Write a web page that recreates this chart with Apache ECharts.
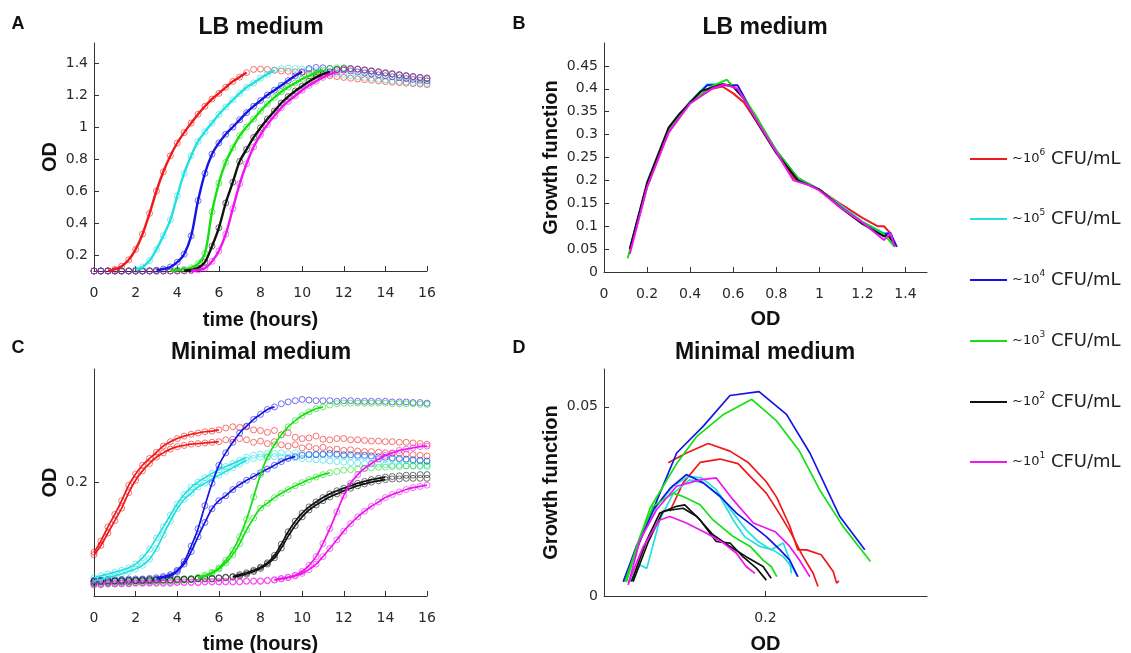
<!DOCTYPE html>
<html><head><meta charset="utf-8">
<script src="https://cdn.jsdelivr.net/npm/echarts@6/dist/echarts.min.js"></script>
<style>html,body{margin:0;padding:0;background:#fff}#c{width:1131px;height:653px}</style>
</head><body><div id="c"></div><script>
// ---------- labels & colours ----------
const legendNames = ['e6','e5','e4','e3','e2','e1'];
const legendExps = ['6','5','4','3','2','1'];
const colors = ['#f01818','#22e0e0','#1414e6','#14e014','#111111','#f014f0'];
const legendY = [159,219,280,341,402,462];

// ---------- time grid (hours) ----------
const timeH = [0,0.33,0.67,1,1.33,1.67,2,2.33,2.67,3,3.33,3.67,4,4.33,4.67,5,5.33,5.67,6,6.33,6.67,7,7.33,7.67,8,8.33,8.67,9,9.33,9.67,10,10.33,10.67,11,11.33,11.67,12,12.33,12.67,13,13.33,13.67,14,14.33,14.67,15,15.33,15.67,16];

// ---------- Panel A: LB medium, OD vs time ----------
const odA_e6 = [0.100,0.100,0.102,0.110,0.130,0.170,0.235,0.330,0.460,0.600,0.720,0.820,0.900,0.965,1.025,1.080,1.130,1.175,1.210,1.248,1.285,1.312,1.340,1.360,1.362,1.360,1.355,1.350,1.348,1.345,1.340,1.335,1.330,1.325,1.320,1.315,1.310,1.305,1.300,1.296,1.292,1.288,1.284,1.280,1.277,1.274,1.271,1.268,1.265];
const odA_e5 = [0.100,0.100,0.100,0.100,0.100,0.102,0.108,0.125,0.165,0.235,0.320,0.420,0.570,0.710,0.820,0.910,0.970,1.025,1.078,1.125,1.170,1.210,1.248,1.275,1.305,1.330,1.355,1.365,1.368,1.366,1.362,1.358,1.352,1.346,1.340,1.334,1.328,1.322,1.316,1.310,1.305,1.300,1.295,1.290,1.286,1.282,1.278,1.275,1.272];
const odA_e4 = [0.100,0.100,0.100,0.100,0.100,0.100,0.100,0.100,0.102,0.105,0.112,0.125,0.155,0.205,0.320,0.540,0.710,0.830,0.900,0.955,1.000,1.045,1.090,1.130,1.165,1.200,1.230,1.260,1.290,1.320,1.345,1.365,1.372,1.370,1.366,1.360,1.355,1.350,1.344,1.338,1.332,1.326,1.320,1.314,1.308,1.302,1.297,1.292,1.288];
const odA_e3 = [0.100,0.100,0.100,0.100,0.100,0.100,0.100,0.100,0.100,0.100,0.100,0.102,0.105,0.110,0.120,0.145,0.210,0.470,0.650,0.780,0.870,0.945,1.000,1.050,1.100,1.145,1.185,1.220,1.250,1.275,1.300,1.320,1.340,1.355,1.365,1.370,1.370,1.366,1.360,1.354,1.348,1.342,1.336,1.330,1.324,1.318,1.312,1.306,1.300];
const odA_e2 = [0.100,0.100,0.100,0.100,0.100,0.100,0.100,0.100,0.100,0.100,0.100,0.100,0.100,0.102,0.106,0.118,0.155,0.255,0.370,0.525,0.655,0.785,0.860,0.935,0.995,1.050,1.100,1.150,1.190,1.225,1.255,1.285,1.310,1.330,1.345,1.358,1.365,1.365,1.362,1.356,1.350,1.344,1.338,1.332,1.326,1.320,1.315,1.310,1.305];
const odA_e1 = [0.100,0.100,0.100,0.100,0.100,0.100,0.100,0.100,0.100,0.100,0.100,0.100,0.100,0.100,0.102,0.106,0.118,0.160,0.225,0.330,0.490,0.645,0.770,0.875,0.950,1.015,1.070,1.120,1.160,1.195,1.230,1.260,1.285,1.310,1.330,1.345,1.358,1.362,1.362,1.358,1.352,1.346,1.340,1.334,1.328,1.322,1.316,1.310,1.306];
const fitStartA = [2,6,9,11,13,14];
const fitEndA = [22,26,30,33,34,35];

// ---------- Panel B: LB medium, growth function vs OD ----------
const odB_e6 = [0.12,0.2,0.3,0.4,0.5,0.55,0.6,0.65,0.7,0.8,0.88,0.95,1.0,1.1,1.2,1.27,1.3,1.33,1.35];
const gfB_e6 = [0.045,0.19,0.305,0.37,0.4,0.405,0.39,0.37,0.335,0.26,0.205,0.192,0.18,0.148,0.118,0.1,0.1,0.085,0.06];
const odB_e5 = [0.12,0.2,0.3,0.4,0.48,0.55,0.6,0.65,0.7,0.8,0.9,1.0,1.1,1.2,1.3,1.33,1.35];
const gfB_e5 = [0.05,0.19,0.31,0.372,0.41,0.41,0.405,0.378,0.338,0.26,0.205,0.18,0.145,0.11,0.085,0.085,0.06];
const odB_e4 = [0.12,0.2,0.3,0.4,0.48,0.62,0.7,0.8,0.9,1.0,1.1,1.2,1.3,1.33,1.36];
const gfB_e4 = [0.05,0.19,0.31,0.37,0.408,0.408,0.34,0.265,0.205,0.18,0.142,0.108,0.082,0.085,0.055];
const odB_e3 = [0.11,0.2,0.3,0.4,0.5,0.57,0.65,0.7,0.8,0.9,1.0,1.1,1.2,1.3,1.35];
const gfB_e3 = [0.03,0.185,0.31,0.372,0.405,0.42,0.38,0.345,0.265,0.205,0.18,0.142,0.108,0.082,0.055];
const odB_e2 = [0.12,0.2,0.3,0.35,0.45,0.55,0.6,0.65,0.7,0.8,0.9,1.0,1.1,1.2,1.3,1.32,1.35];
const gfB_e2 = [0.05,0.195,0.315,0.345,0.395,0.41,0.405,0.378,0.335,0.26,0.2,0.18,0.14,0.105,0.078,0.08,0.06];
const odB_e1 = [0.12,0.2,0.3,0.4,0.5,0.56,0.62,0.7,0.8,0.88,0.95,1.0,1.1,1.2,1.3,1.33,1.35];
const gfB_e1 = [0.04,0.185,0.305,0.368,0.4,0.41,0.4,0.338,0.262,0.2,0.19,0.178,0.14,0.108,0.07,0.085,0.055];

// ---------- Panel C: minimal medium, OD vs time (two replicates) ----------
const odC_e6_r1 = [0.087,0.105,0.128,0.148,0.170,0.195,0.213,0.227,0.238,0.248,0.258,0.265,0.270,0.274,0.277,0.279,0.281,0.282,0.284,0.287,0.289,0.288,0.289,0.284,0.283,0.280,0.283,0.276,0.279,0.272,0.270,0.271,0.274,0.269,0.268,0.270,0.270,0.268,0.268,0.267,0.266,0.266,0.265,0.265,0.264,0.264,0.263,0.262,0.261];
const odC_e6_r2 = [0.083,0.098,0.118,0.138,0.158,0.183,0.203,0.218,0.230,0.240,0.247,0.253,0.257,0.259,0.261,0.262,0.263,0.264,0.265,0.268,0.269,0.270,0.268,0.264,0.266,0.262,0.265,0.260,0.258,0.260,0.255,0.257,0.254,0.256,0.252,0.253,0.251,0.252,0.250,0.249,0.249,0.248,0.247,0.246,0.246,0.245,0.244,0.243,0.242];
const odC_e5_r1 = [0.046,0.049,0.052,0.055,0.058,0.062,0.068,0.078,0.092,0.110,0.128,0.147,0.165,0.180,0.192,0.200,0.207,0.214,0.220,0.225,0.230,0.235,0.240,0.243,0.245,0.246,0.246,0.247,0.246,0.247,0.246,0.245,0.245,0.244,0.243,0.243,0.242,0.241,0.240,0.240,0.239,0.238,0.237,0.237,0.236,0.235,0.234,0.234,0.233];
const odC_e5_r2 = [0.041,0.043,0.046,0.049,0.052,0.056,0.060,0.066,0.076,0.093,0.115,0.137,0.157,0.172,0.182,0.192,0.198,0.205,0.211,0.217,0.223,0.229,0.235,0.238,0.240,0.241,0.241,0.240,0.240,0.239,0.238,0.237,0.236,0.235,0.234,0.233,0.232,0.231,0.231,0.230,0.229,0.229,0.228,0.227,0.227,0.226,0.226,0.225,0.225];
const odC_e4_r1 = [0.042,0.042,0.043,0.043,0.043,0.044,0.044,0.044,0.045,0.046,0.048,0.051,0.058,0.072,0.097,0.125,0.162,0.198,0.227,0.247,0.264,0.279,0.290,0.301,0.309,0.317,0.321,0.326,0.329,0.331,0.333,0.332,0.331,0.331,0.331,0.330,0.331,0.331,0.330,0.330,0.330,0.330,0.330,0.329,0.329,0.329,0.328,0.328,0.327];
const odC_e4_r2 = [0.040,0.040,0.041,0.041,0.041,0.042,0.042,0.043,0.043,0.044,0.046,0.049,0.056,0.068,0.088,0.112,0.135,0.157,0.170,0.178,0.188,0.196,0.203,0.209,0.215,0.221,0.227,0.233,0.238,0.241,0.243,0.244,0.244,0.245,0.246,0.245,0.244,0.244,0.243,0.243,0.242,0.241,0.240,0.239,0.238,0.237,0.236,0.235,0.234];
const odC_e3_r1 = [0.036,0.037,0.038,0.038,0.039,0.039,0.040,0.040,0.041,0.041,0.042,0.042,0.043,0.044,0.045,0.047,0.050,0.055,0.062,0.074,0.090,0.112,0.140,0.176,0.212,0.240,0.260,0.276,0.289,0.299,0.307,0.313,0.318,0.321,0.324,0.326,0.327,0.327,0.327,0.327,0.327,0.327,0.327,0.326,0.326,0.326,0.326,0.325,0.325];
const odC_e3_r2 = [0.034,0.035,0.036,0.036,0.037,0.037,0.038,0.038,0.039,0.039,0.040,0.040,0.041,0.042,0.043,0.045,0.048,0.053,0.060,0.070,0.083,0.101,0.123,0.142,0.158,0.166,0.175,0.182,0.188,0.194,0.199,0.204,0.208,0.212,0.215,0.217,0.219,0.220,0.221,0.222,0.223,0.224,0.224,0.225,0.225,0.226,0.226,0.227,0.227];
const odC_e2_r1 = [0.040,0.041,0.041,0.041,0.042,0.042,0.042,0.042,0.043,0.043,0.043,0.043,0.044,0.044,0.044,0.045,0.045,0.045,0.046,0.047,0.048,0.051,0.054,0.058,0.063,0.070,0.082,0.100,0.120,0.137,0.150,0.160,0.168,0.175,0.181,0.186,0.190,0.194,0.198,0.201,0.204,0.206,0.208,0.209,0.210,0.211,0.211,0.212,0.212];
const odC_e2_r2 = [0.038,0.039,0.039,0.040,0.040,0.040,0.041,0.041,0.041,0.042,0.042,0.042,0.043,0.043,0.043,0.044,0.044,0.044,0.045,0.046,0.047,0.049,0.052,0.056,0.061,0.068,0.078,0.094,0.113,0.130,0.144,0.155,0.163,0.170,0.176,0.181,0.186,0.190,0.194,0.197,0.200,0.202,0.204,0.205,0.205,0.206,0.206,0.206,0.206];
const odC_e1_r1 = [0.036,0.036,0.037,0.037,0.037,0.037,0.038,0.038,0.038,0.038,0.038,0.038,0.039,0.039,0.039,0.039,0.040,0.040,0.040,0.040,0.040,0.040,0.041,0.041,0.041,0.042,0.043,0.045,0.047,0.050,0.056,0.066,0.080,0.101,0.125,0.152,0.178,0.198,0.212,0.222,0.230,0.237,0.243,0.247,0.251,0.253,0.255,0.257,0.258];
const odC_e1_r2 = [0.035,0.035,0.036,0.036,0.036,0.036,0.037,0.037,0.037,0.037,0.037,0.037,0.038,0.038,0.038,0.038,0.039,0.039,0.039,0.039,0.039,0.039,0.040,0.040,0.040,0.041,0.042,0.044,0.046,0.049,0.053,0.059,0.068,0.080,0.093,0.107,0.121,0.133,0.144,0.153,0.161,0.168,0.175,0.180,0.184,0.188,0.191,0.193,0.195];
const fitStartC = [[0,0],[0,0],[9,9],[15,15],[20,20],[26,26]];
const fitEndC = [[18,18],[22,22],[26,29],[33,34],[42,42],[48,48]];

// ---------- Panel D: minimal medium, growth function vs OD ----------
const odD_e6_r1 = [0.0796,0.102,0.129,0.156,0.179,0.201,0.214,0.23,0.24,0.251,0.269,0.284,0.288,0.291];
const gfD_e6_r1 = [0.0352,0.0378,0.0403,0.0383,0.0352,0.0302,0.026,0.0185,0.0122,0.0122,0.0109,0.0064,0.0034,0.004];
const odD_e6_r2 = [0.0816,0.098,0.119,0.1435,0.166,0.181,0.201,0.218,0.232,0.245,0.259,0.265];
const gfD_e6_r2 = [0.0224,0.0299,0.0353,0.0362,0.035,0.0316,0.0272,0.0215,0.0165,0.011,0.006,0.0025];
const odD_e5_r1 = [0.027,0.0445,0.065,0.0858,0.104,0.121,0.139,0.16,0.176,0.191,0.207,0.222,0.23,0.232];
const gfD_e5_r1 = [0.0038,0.0148,0.0237,0.029,0.0316,0.0312,0.0281,0.0219,0.0175,0.0144,0.0122,0.014,0.0095,0.006];
const odD_e5_r2 = [0.032,0.0445,0.053,0.069,0.0858,0.106,0.123,0.1435,0.16,0.174,0.193,0.209,0.222,0.234,0.24];
const gfD_e5_r2 = [0.0038,0.0082,0.0073,0.0201,0.0272,0.0307,0.0299,0.0263,0.0201,0.0157,0.0131,0.0122,0.0104,0.0073,0.0051];
const odD_e4_r1 = [0.024,0.059,0.09,0.123,0.156,0.192,0.226,0.255,0.292,0.323];
const gfD_e4_r1 = [0.0038,0.0219,0.0378,0.0449,0.053,0.054,0.048,0.0378,0.021,0.0122];
const odD_e4_r2 = [0.024,0.04,0.061,0.082,0.102,0.123,0.144,0.164,0.185,0.201,0.218,0.23,0.24];
const gfD_e4_r2 = [0.0038,0.0131,0.0228,0.0285,0.0321,0.0299,0.0263,0.0219,0.0184,0.0157,0.0122,0.0095,0.0051];
const odD_e3_r1 = [0.026,0.057,0.09,0.115,0.148,0.183,0.214,0.242,0.267,0.296,0.33];
const gfD_e3_r1 = [0.0038,0.0232,0.035,0.0422,0.048,0.052,0.0462,0.0383,0.0281,0.0184,0.0091];
const odD_e3_r2 = [0.028,0.0445,0.061,0.086,0.098,0.119,0.135,0.16,0.181,0.197,0.207,0.214];
const gfD_e3_r2 = [0.0038,0.0157,0.0237,0.0272,0.0263,0.0241,0.0201,0.0157,0.0131,0.0095,0.0078,0.0051];
const odD_e2_r1 = [0.034,0.053,0.069,0.09,0.1,0.119,0.139,0.156,0.172,0.189,0.201];
const gfD_e2_r1 = [0.0038,0.0148,0.0219,0.0237,0.0241,0.0201,0.0144,0.014,0.0104,0.0073,0.0042];
const odD_e2_r2 = [0.036,0.055,0.073,0.098,0.115,0.135,0.156,0.176,0.197,0.207];
const gfD_e2_r2 = [0.0038,0.0144,0.0224,0.0232,0.021,0.0162,0.0131,0.0104,0.0078,0.0047];
const odD_e1_r1 = [0.03,0.0445,0.065,0.09,0.119,0.139,0.16,0.185,0.212,0.23,0.242,0.255];
const gfD_e1_r1 = [0.0029,0.0148,0.0228,0.029,0.0307,0.0312,0.0254,0.0193,0.017,0.0131,0.0095,0.0051];
const odD_e1_r2 = [0.03,0.0487,0.069,0.0816,0.102,0.127,0.148,0.164,0.176,0.187];
const gfD_e1_r2 = [0.0034,0.0131,0.0201,0.021,0.0193,0.0166,0.014,0.0113,0.0078,0.006];

// ---------- tick labels ----------
const ticksA_y = [0.2,0.4,0.6,0.8,1,1.2,1.4];
const ticksB_x = [0,0.2,0.4,0.6,0.8,1,1.2,1.4];
const ticksB_y = [0,0.05,0.1,0.15,0.2,0.25,0.3,0.35,0.4,0.45];
const ticksC_y = [0.2];
const ticksD_x = [0.2];
const ticksD_y = [0,0.05];

// ---------- build ----------
const odA = [odA_e6,odA_e5,odA_e4,odA_e3,odA_e2,odA_e1];
const odB = [odB_e6,odB_e5,odB_e4,odB_e3,odB_e2,odB_e1];
const gfB = [gfB_e6,gfB_e5,gfB_e4,gfB_e3,gfB_e2,gfB_e1];
const odC = [[odC_e6_r1,odC_e6_r2],[odC_e5_r1,odC_e5_r2],[odC_e4_r1,odC_e4_r2],[odC_e3_r1,odC_e3_r2],[odC_e2_r1,odC_e2_r2],[odC_e1_r1,odC_e1_r2]];
const odD = [[odD_e6_r1,odD_e6_r2],[odD_e5_r1,odD_e5_r2],[odD_e4_r1,odD_e4_r2],[odD_e3_r1,odD_e3_r2],[odD_e2_r1,odD_e2_r2],[odD_e1_r1,odD_e1_r2]];
const gfD = [[gfD_e6_r1,gfD_e6_r2],[gfD_e5_r1,gfD_e5_r2],[gfD_e4_r1,gfD_e4_r2],[gfD_e3_r1,gfD_e3_r2],[gfD_e2_r1,gfD_e2_r2],[gfD_e1_r1,gfD_e1_r2]];

const tickFont = {fontFamily:'DejaVu Sans', fontSize:14, color:'#2a2a2a'};
const nameFont = {fontFamily:'Liberation Sans', fontWeight:'bold', fontSize:20, color:'#111'};
const axLine = {show:true, lineStyle:{color:'#333', width:1}};
const axTick = (vals)=>({show:true, inside:true, length:5, lineStyle:{color:'#333'}, customValues: vals});

function xAx(idx, min, max, opts){
  return Object.assign({type:'value', gridIndex:idx, min, max, splitLine:{show:false},
    axisLine:axLine, nameLocation:'middle', nameTextStyle:nameFont}, opts);
}

const grids = [
  {left:94, top:43, width:333, height:228},
  {left:604, top:43, width:323, height:229},
  {left:94, top:369, width:333, height:227},
  {left:604, top:369, width:323, height:227}
].map(g=>Object.assign(g,{containLabel:false, outerBoundsMode:'none'}));

const xAxes = [
  xAx(0,0,16,{interval:2, name:'time (hours)', nameGap:39, axisTick:{show:true,inside:true,length:5,lineStyle:{color:'#333'}}, axisLabel:Object.assign({margin:15},tickFont)}),
  xAx(1,0,1.5,{name:'OD', nameGap:37, axisTick:axTick(ticksB_x), axisLabel:Object.assign({margin:15, customValues:ticksB_x},tickFont)}),
  xAx(2,0,16,{interval:2, name:'time (hours)', nameGap:38, axisTick:{show:true,inside:true,length:5,lineStyle:{color:'#333'}}, axisLabel:Object.assign({margin:15},tickFont)}),
  xAx(3,0,0.4,{name:'OD', nameGap:38, axisTick:axTick(ticksD_x), axisLabel:Object.assign({margin:15, customValues:ticksD_x},tickFont)})
];
const yAxes = [
  xAx(0,0.1,1.525,{name:'OD', nameGap:34, axisTick:axTick(ticksA_y), axisLabel:Object.assign({margin:6, customValues:ticksA_y},tickFont)}),
  xAx(1,0,0.5,{name:'Growth function', nameGap:43, axisTick:axTick(ticksB_y), axisLabel:Object.assign({margin:6, customValues:ticksB_y},tickFont)}),
  xAx(2,0.0166,0.382,{name:'OD', nameGap:34, axisTick:axTick(ticksC_y), axisLabel:Object.assign({margin:6, customValues:ticksC_y},tickFont)}),
  xAx(3,0,0.06,{name:'Growth function', nameGap:43, axisTick:axTick(ticksD_y), axisLabel:Object.assign({margin:6, customValues:ticksD_y},tickFont)})
];

const series = [];
function pts(gi, vals, k){
  series.push({type:'scatter', name:'pts', xAxisIndex:gi, yAxisIndex:gi, silent:true, symbol:'circle', symbolSize:6,
    itemStyle:{color:'transparent', borderColor:colors[k], borderWidth:1, opacity:0.6},
    data: timeH.map((t,j)=>[t, vals[j]]), z:2});
}
function fit(gi, vals, k, s, e, w){
  series.push({type:'line', name:legendNames[k], xAxisIndex:gi, yAxisIndex:gi, smooth:0.35, showSymbol:false, silent:true,
    lineStyle:{width:w, color:colors[k]}, itemStyle:{color:colors[k]},
    data: timeH.slice(s, e+1).map((t,j)=>[t, vals[s+j]]), z:3});
}
function poly(gi, xs, ys, k, w){
  series.push({type:'line', name:legendNames[k], xAxisIndex:gi, yAxisIndex:gi, showSymbol:false, silent:true,
    lineStyle:{width:w, color:colors[k]}, itemStyle:{color:colors[k]},
    data: xs.map((x,j)=>[x, ys[j]]), z:3});
}
// A
odA.forEach((v,k)=>pts(0,v,k));
odA.forEach((v,k)=>fit(0,v,k,fitStartA[k],fitEndA[k],2.4));
// B
odB.forEach((v,k)=>poly(1,v,gfB[k],k,2));
// C
odC.forEach((reps,k)=>reps.forEach(v=>pts(2,v,k)));
odC.forEach((reps,k)=>reps.forEach((v,r)=>fit(2,v,k,fitStartC[k][r],fitEndC[k][r],1.7)));
// D
odD.forEach((reps,k)=>reps.forEach((v,r)=>poly(3,v,gfD[k][r],k,1.7)));

const legends = legendNames.map((n,k)=>({
  data:[{name:n, itemStyle:{color:colors[k]}}], left:970, top:legendY[k]-11, orient:'vertical',
  icon:'rect', itemWidth:37, itemHeight:2, padding:0, selectedMode:false,
  formatter: ()=> '{t|~10}{s|' + legendExps[k] + '}{n| CFU/mL}',
  textStyle:{rich:{
    t:{fontFamily:'DejaVu Sans', fontSize:13, color:'#222', lineHeight:22, verticalAlign:'middle'},
    n:{fontFamily:'DejaVu Sans', fontSize:18, color:'#222', lineHeight:22, verticalAlign:'middle'},
    s:{fontFamily:'DejaVu Sans', fontSize:9, color:'#222', verticalAlign:'top', lineHeight:12}}}
}));

const titleFont = 'bold 23px "Liberation Sans"';
const letterFont = 'bold 18px "Liberation Sans"';
function txt(text, x, y, font, align){
  return {type:'text', x, y, silent:true, style:{text, font, fill:'#111', align:align||'center', verticalAlign:'middle'}};
}
const graphic = [
  txt('A',18,24,letterFont), txt('B',519,24,letterFont), txt('C',18,348,letterFont), txt('D',519,348,letterFont),
  txt('LB medium',261,28,titleFont), txt('LB medium',765,28,titleFont),
  txt('Minimal medium',261,353,titleFont), txt('Minimal medium',765,353,titleFont)
];

const chart = echarts.init(document.getElementById('c'), null, {renderer:'canvas'});
chart.setOption({
  animation:false, backgroundColor:'#fff',
  grid:grids, xAxis:xAxes, yAxis:yAxes, series, legend:legends, graphic
});
</script></body></html>
